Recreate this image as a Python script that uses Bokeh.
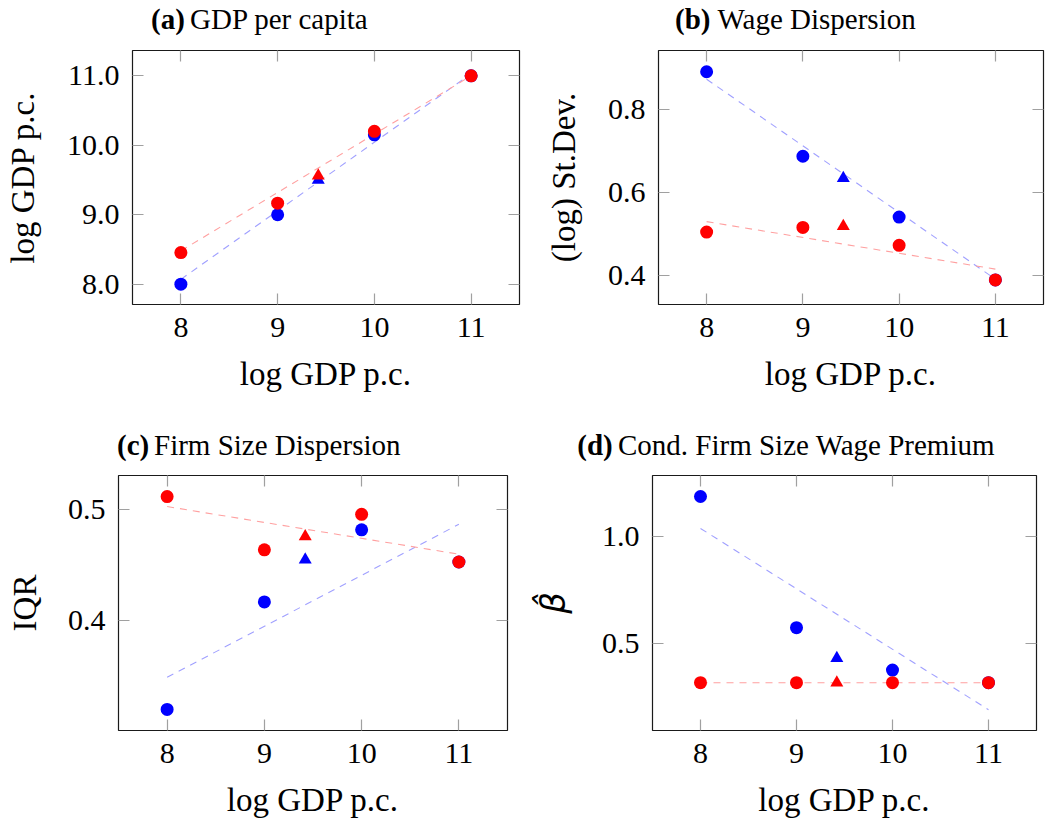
from bokeh.plotting import figure
from bokeh.models import Range1d, LinearAxis, FixedTicker, NumeralTickFormatter, Div
from bokeh.layouts import column, row
from bokeh.embed import file_html
from bokeh.resources import INLINE

FONT = "Liberation Serif"

# ---- data ----
x_points = [8, 9, 10, 11]
x_triangle = [9.42]
x_fit = [8, 11]
x_ticks = [8, 9, 10, 11]

a_blue = [8.0, 9.0, 10.15, 11.0]
a_red = [8.455, 9.167, 10.2, 11.0]
a_blue_tri = [9.50]
a_red_tri = [9.56]
a_blue_fit = [8.07, 11.03]
a_red_fit = [8.48, 11.0]
a_yticks = [8.0, 9.0, 10.0, 11.0]

b_blue = [0.890, 0.687, 0.541, 0.390]
b_red = [0.505, 0.516, 0.473, 0.390]
b_blue_tri = [0.634]
b_red_tri = [0.519]
b_blue_fit = [0.872, 0.392]
b_red_fit = [0.530, 0.416]
b_yticks = [0.4, 0.6, 0.8]

c_blue = [0.320, 0.417, 0.482, 0.453]
c_red = [0.512, 0.464, 0.496, 0.453]
c_blue_tri = [0.455]
c_red_tri = [0.476]
c_blue_fit = [0.349, 0.487]
c_red_fit = [0.503, 0.460]
c_yticks = [0.4, 0.5]

d_blue = [1.185, 0.573, 0.375, 0.316]
d_red = [0.316, 0.316, 0.316, 0.316]
d_blue_tri = [0.430]
d_red_tri = [0.316]
d_blue_fit = [1.036, 0.190]
d_red_fit = [0.316, 0.316]
d_yticks = [0.5, 1.0]

BLUE = "#0000ff"
RED = "#ff0000"
BLUE_FIT = "#a0a0ff"
RED_FIT = "#ffa0a0"
TICK = "#a0a0a0"


def style_axis(ax, show_labels, standoff=12):
    ax.axis_line_color = None
    ax.major_tick_in = 11
    ax.major_tick_out = 0
    ax.minor_tick_in = 0
    ax.minor_tick_out = 0
    ax.major_tick_line_color = TICK
    ax.major_tick_line_width = 1.2
    ax.major_label_text_font = FONT
    ax.axis_label_text_font = FONT
    ax.axis_label_text_font_style = "normal"
    ax.axis_label_text_font_size = "33px"
    ax.axis_label_text_color = "black"
    if show_labels:
        ax.major_label_text_color = "black"
        ax.major_label_text_font_size = "30px"
        ax.major_label_standoff = standoff
    else:
        ax.major_label_text_color = None
        ax.major_label_text_font_size = "1px"
        ax.major_label_standoff = 0


def title_div(width, height, letter, title, x1, x2, baseline):
    top = baseline - 24.5
    span = ("position:absolute;top:%.1fpx;left:%.1fpx;white-space:nowrap;"
            "line-height:29px;font-size:29px;font-family:'Liberation Serif';color:#000;")
    html = ('<div style="position:relative;width:%dpx;height:%dpx;">'
            '<span style="%sfont-weight:bold;">%s</span>'
            '<span style="%sfont-weight:normal;">%s</span></div>') % (
        width, height, span % (top, x1), letter, span % (top, x2), title)
    return Div(text=html, width=width, height=height, margin=0)


def panel(letter, title, ylabel, yrange, yticks, yfmt,
          blue, red, blue_tri, red_tri, blue_fit, red_fit,
          fw, fh, bl, br, bt, bb, th, tbase, tx1, tx2,
          ylab_standoff, ylab_font=FONT, ylab_italic=False, ylab_size="33px"):
    p = figure(frame_width=fw, frame_height=fh,
               x_range=Range1d(7.5, 11.5), y_range=Range1d(*yrange),
               x_axis_type=None, y_axis_type=None,
               output_backend="svg", toolbar_location=None,
               min_border_left=bl, min_border_right=br,
               min_border_top=bt, min_border_bottom=bb)
    p.xgrid.visible = False
    p.ygrid.visible = False
    p.outline_line_color = "#1a1a1a"
    p.outline_line_width = 1.2

    xt = FixedTicker(ticks=x_ticks)
    yt = FixedTicker(ticks=yticks)

    bottom = LinearAxis(ticker=xt, formatter=NumeralTickFormatter(format="0"),
                        axis_label="log GDP p.c.")
    style_axis(bottom, True, 13)
    bottom.axis_label_standoff = 16
    p.add_layout(bottom, "below")

    top = LinearAxis(ticker=xt)
    style_axis(top, False)
    p.add_layout(top, "above")

    left = LinearAxis(ticker=yt, formatter=NumeralTickFormatter(format=yfmt),
                      axis_label=ylabel)
    style_axis(left, True, 13)
    left.axis_label_standoff = ylab_standoff
    left.axis_label_text_font = ylab_font
    left.axis_label_text_font_size = ylab_size
    if ylab_italic:
        left.axis_label_text_font_style = "italic"
    p.add_layout(left, "left")

    right = LinearAxis(ticker=yt)
    style_axis(right, False)
    p.add_layout(right, "right")

    p.line(x_fit, blue_fit, line_color=BLUE_FIT, line_width=1.1, line_dash="7 6")
    p.line(x_fit, red_fit, line_color=RED_FIT, line_width=1.1, line_dash="7 6")
    p.scatter(x_points, blue, marker="circle", size=13, fill_color=BLUE, line_color=None)
    p.scatter(x_triangle, blue_tri, marker="triangle", size=13, fill_color=BLUE, line_color=None)
    p.scatter(x_points, red, marker="circle", size=13, fill_color=RED, line_color=None)
    p.scatter(x_triangle, red_tri, marker="triangle", size=13, fill_color=RED, line_color=None)

    t = title_div(bl + fw + br, th, letter, title, tx1, tx2, tbase)
    return column(t, p, spacing=0)


pa = panel("(a)", "GDP per capita", "log GDP p.c.", (7.708, 11.364), a_yticks, "0.0",
           a_blue, a_red, a_blue_tri, a_red_tri, a_blue_fit, a_red_fit,
           387, 254, 132, 8, 10, 117, 40, 29, 151, 190, 23)
pb = panel("(b)", "Wage Dispersion", "(log) St.Dev.", (0.331, 0.941), b_yticks, "0.0",
           b_blue, b_red, b_blue_tri, b_red_tri, b_blue_fit, b_red_fit,
           385, 254, 131, 5, 10, 117, 40, 29, 148, 190.5, 23)
pc = panel("(c)", "Firm Size Dispersion", "IQR", (0.301, 0.531), c_yticks, "0.0",
           c_blue, c_red, c_blue_tri, c_red_tri, c_blue_fit, c_red_fit,
           389, 255, 118, 10, 12, 93, 42, 34, 117, 154, 22)
pd_ = panel("(d)", "Cond. Firm Size Wage Premium", "β̂", (0.093, 1.283), d_yticks, "0.0",
            d_blue, d_red, d_blue_tri, d_red_tri, d_blue_fit, d_red_fit,
            384, 255, 135, 12, 12, 93, 42, 34, 60.3, 101, 26,
            "DejaVu Sans", True, "34px")

layout = column(row(pa, pb, spacing=0), row(pc, pd_, spacing=0), spacing=0)
open("out.html", "w").write(file_html(layout, INLINE))
